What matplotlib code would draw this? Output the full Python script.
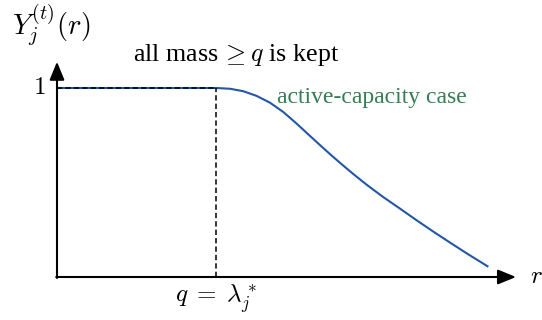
import matplotlib; matplotlib.use("Agg")
import matplotlib.pyplot as plt

plt.rcParams.update({"font.family": "Liberation Serif", "mathtext.fontset": "cm"})
BLUE = "#2356a8"; GREEN = "#347d52"; K = "#000000"

# curve (x in units of q, y in units of the plateau 1)
r_vals = [0.0, 1.0, 1.088, 1.172, 1.256, 1.340, 1.423, 1.508, 1.580, 1.654,
          1.728, 1.801, 1.875, 1.948, 2.050, 2.157, 2.262, 2.367, 2.472, 2.577, 2.713]
y_vals = [1.0, 1.0, 0.996, 0.983, 0.958, 0.922, 0.873, 0.811, 0.755, 0.698,
          0.642, 0.589, 0.537, 0.488, 0.424, 0.362, 0.300, 0.240, 0.182, 0.125, 0.054]
q_pos = 1.0
y_top = 1.0
x_end = 2.887   # arrow tip of r-axis
y_end = 1.139   # arrow tip of Y-axis

fig = plt.figure(figsize=(5.42, 3.2), dpi=100)
ax = fig.add_axes([0, 0, 1, 1])
ax.set_xlim(-57 / 159, (542 - 57) / 159)
ax.set_ylim(-(320 - 277) / 189, 277 / 189)
ax.axis("off")

ax.plot(r_vals, y_vals, color=BLUE, lw=1.5, solid_capstyle="butt",
        solid_joinstyle="round", zorder=2)
ax.plot([0, q_pos], [y_top, y_top], color=K, lw=1.1, dashes=(3.5, 2), zorder=3)
ax.plot([q_pos, q_pos], [0, y_top], color=K, lw=1.1, dashes=(3.5, 2), zorder=3)

arr = dict(arrowstyle="-|>,head_length=1.1,head_width=0.45", lw=1.5, color=K,
           shrinkA=0, shrinkB=0, mutation_scale=10)
ax.annotate("", xy=(x_end, 0), xytext=(-0.005, 0), arrowprops=arr, zorder=4)
ax.annotate("", xy=(0, y_end), xytext=(0, -0.005), arrowprops=arr, zorder=4)

ax.text(-0.11, y_top, r"$1$", fontsize=18, ha="center", va="center")
ax.text(2.975, 0.0, r"$r$", fontsize=18, ha="left", va="center")
ax.text(q_pos, -0.138, r"$q\;=\;\lambda_j^*$", fontsize=18, ha="center", va="baseline")
ax.text(-0.283, 1.280, r"$Y_j^{(t)}(r)$", fontsize=20.5, ha="left", va="baseline")
ax.text(0.478, 1.143, r"all mass$\,\geq q$ is kept", fontsize=18.7, ha="left", va="baseline")
ax.text(1.386, 0.919, "active-capacity case", fontsize=17, color=GREEN, ha="left", va="baseline")

fig.savefig("out.png", dpi=100)
